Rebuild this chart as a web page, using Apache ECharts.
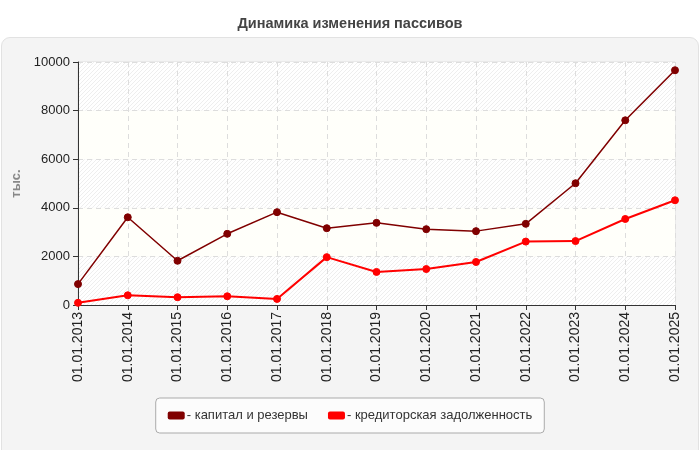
<!DOCTYPE html>
<html>
<head>
<meta charset="utf-8">
<script src="https://cdn.jsdelivr.net/npm/echarts@6/dist/echarts.min.js"></script>
<style>
  html, body { margin: 0; padding: 0; background: #fff; }
  #panel {
    position: absolute; left: 1px; top: 37px; width: 696px; height: 420px;
    background: #f4f4f4; border: 1px solid #e2e2e2; border-radius: 9px;
  }
  #chart { position: absolute; left: 0; top: 0; width: 700px; height: 450px; }
</style>
</head>
<body>
<div id="panel"></div>
<div id="chart"></div>
<script>
// категории (даты)
const categories = ['01.01.2013', '01.01.2014', '01.01.2015', '01.01.2016', '01.01.2017', '01.01.2018',
  '01.01.2019', '01.01.2020', '01.01.2021', '01.01.2022', '01.01.2023', '01.01.2024', '01.01.2025'];
// капитал и резервы
const capital = [860, 3610, 1820, 2930, 3820, 3160, 3380, 3120, 3040, 3340, 5010, 7600, 9660];
// кредиторская задолженность
const payables = [90, 400, 320, 360, 250, 1970, 1360, 1480, 1770, 2610, 2630, 3540, 4310];

// штриховка для полос сетки
function makeHatch() {
  const c = document.createElement('canvas');
  c.width = 4; c.height = 4;
  const ctx = c.getContext('2d');
  ctx.fillStyle = '#ffffff';
  ctx.fillRect(0, 0, 4, 4);
  ctx.strokeStyle = '#eeeeee';
  ctx.lineWidth = 1;
  ctx.beginPath();
  ctx.moveTo(0, 4); ctx.lineTo(4, 0);
  ctx.moveTo(-2, 2); ctx.lineTo(2, -2);
  ctx.moveTo(2, 6); ctx.lineTo(6, 2);
  ctx.stroke();
  return c;
}
const hatch = { image: makeHatch(), repeat: 'repeat' };

const myChart = echarts.init(document.getElementById('chart'));
myChart.setOption({
  animation: false,
  title: {
    text: 'Динамика изменения пассивов',
    left: 'center',
    top: 11,
    textStyle: { fontFamily: 'Liberation Sans', fontSize: 14.5, fontWeight: 'bold', color: '#444' },
  },
  grid: {
    left: 78, right: 25, top: 62, bottom: 145,
    show: true, borderColor: '#dedede', borderWidth: 1,
  },
  legend: {
    bottom: 17,
    left: 'center',
    itemGap: 20,
    itemWidth: 17,
    itemHeight: 8,
    padding: [11, 12, 11, 12],
    borderColor: '#aaa',
    borderWidth: 1,
    borderRadius: 4,
    backgroundColor: '#fcfcfc',
    icon: 'roundRect',
    textStyle: { fontFamily: 'Liberation Sans', fontSize: 13, color: '#333', padding: [0, 0, 0, -3] },
    formatter: name => '- ' + name,
  },
  xAxis: {
    type: 'category',
    data: categories,
    boundaryGap: false,
    axisLine: { lineStyle: { color: '#333' } },
    axisTick: { alignWithLabel: true, length: 5, lineStyle: { color: '#333' } },
    axisLabel: { rotate: 90, fontFamily: 'Liberation Sans', fontSize: 14, color: '#222', margin: 7 },
    splitLine: { show: true, lineStyle: { color: '#dddddd', type: [5, 4] } },
  },
  yAxis: {
    type: 'value',
    min: 0,
    max: 10000,
    interval: 2000,
    name: 'тыс.',
    nameLocation: 'middle',
    nameGap: 47,
    nameTextStyle: { fontFamily: 'Liberation Sans', fontSize: 13, fontWeight: 'bold', color: '#888' },
    axisLine: { show: true, lineStyle: { color: '#333' } },
    axisTick: { show: true, length: 5, lineStyle: { color: '#333' } },
    axisLabel: { fontFamily: 'Liberation Sans', fontSize: 13, color: '#222', margin: 8, formatter: v => String(v) },
    splitLine: { lineStyle: { color: '#dddddd', type: [5, 4] } },
    splitArea: { show: true, areaStyle: { color: [hatch, '#fffffa'] } },
  },
  series: [
    {
      name: 'капитал и резервы',
      type: 'line',
      data: capital,
      symbol: 'circle',
      symbolSize: 7,
      lineStyle: { color: '#800000', width: 1.5 },
      itemStyle: { color: '#800000', borderColor: '#800000' },
    },
    {
      name: 'кредиторская задолженность',
      type: 'line',
      data: payables,
      symbol: 'circle',
      symbolSize: 7,
      lineStyle: { color: '#ff0000', width: 2 },
      itemStyle: { color: '#ff0000', borderColor: '#ff0000' },
    },
  ],
});
</script>
</body>
</html>
